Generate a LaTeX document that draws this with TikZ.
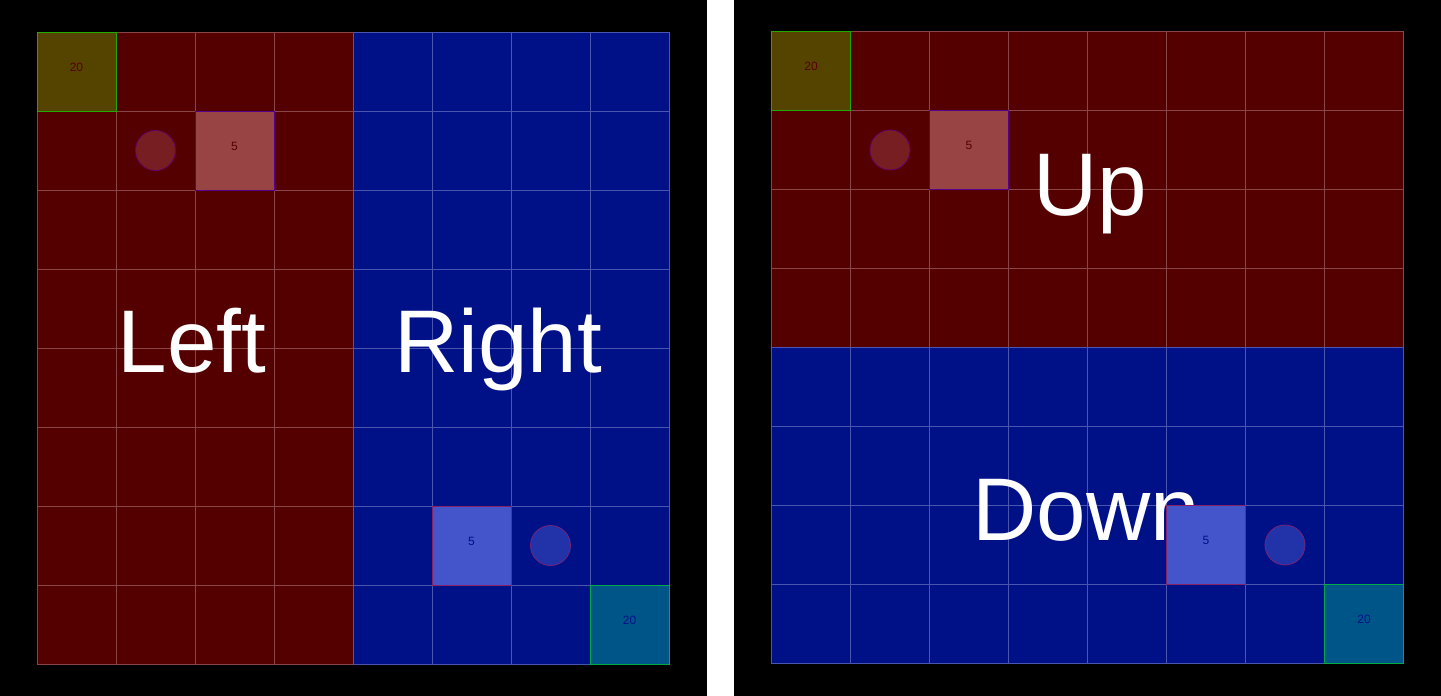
\documentclass[tikz,border=0pt]{standalone}
\usepackage{fontspec}
\setmainfont{Liberation Sans}
\definecolor{cRed}{HTML}{550000}
\definecolor{cBlue}{HTML}{001188}
\definecolor{cRedLine}{HTML}{8A4646}
\definecolor{cBlueLine}{HTML}{4A55B0}
\definecolor{cOlive}{HTML}{554400}
\definecolor{cOliveEdge}{HTML}{22AA00}
\definecolor{cTeal}{HTML}{005588}
\definecolor{cTealEdge}{HTML}{00AA44}
\definecolor{cPink}{HTML}{994444}
\definecolor{cPinkEdge}{HTML}{550088}
\definecolor{cLight}{HTML}{4455CC}
\definecolor{cLightEdge}{HTML}{882266}
\definecolor{cRedDot}{HTML}{771E22}
\definecolor{cRedDotEdge}{HTML}{660066}
\definecolor{cBlueDot}{HTML}{2233AA}
\definecolor{cBlueDotEdge}{HTML}{772277}
\begin{document}
\begin{tikzpicture}[x=1pt,y=-1pt,
  cellbox/.style={draw, line width=1pt, minimum size=79pt, inner sep=0pt},
  olivebox/.style={cellbox, fill=cOlive, draw=cOliveEdge},
  tealbox/.style={cellbox, fill=cTeal, draw=cTealEdge},
  pinkbox/.style={cellbox, fill=cPink, draw=cPinkEdge},
  lightbox/.style={cellbox, fill=cLight, draw=cLightEdge},
  dot/.style={circle, line width=0.8pt, minimum size=40pt, inner sep=0pt},
  reddot/.style={dot, fill=cRedDot, draw=cRedDotEdge},
  bluedot/.style={dot, fill=cBlueDot, draw=cBlueDotEdge},
  smalltxt/.style={inner sep=0pt, font=\fontsize{12}{12}\selectfont},
  redtxt/.style={smalltxt, text=cRed},
  bluetxt/.style={smalltxt, text=cBlue},
  bigtxt/.style={inner sep=0pt, anchor=base, text=white, font=\fontsize{89}{89}\selectfont},
  redline/.style={draw=cRedLine, line width=1pt},
  blueline/.style={draw=cBlueLine, line width=1pt}]
\useasboundingbox (0,0) rectangle (1441,696);
\fill[black] (0,0) rectangle (707,696);
\fill[white] (707,0) rectangle (734,696);
\fill[black] (734,0) rectangle (1441,696);

% ---------- Left panel ----------
\begin{scope}[shift={(37,32)}]
  \fill[cRed] (0,0) rectangle (316,632);
  \fill[cBlue] (316,0) rectangle (632,632);
  \foreach \i in {0,...,4} {
    \draw[redline] (79*\i,0) -- (79*\i,632);
  }
  \foreach \j in {0,...,8} {
    \draw[redline] (0,79*\j) -- (316,79*\j);
  }
  \foreach \i in {4,...,8} {
    \draw[blueline] (79*\i,0) -- (79*\i,632);
  }
  \foreach \j in {0,...,8} {
    \draw[blueline] (316,79*\j) -- (632,79*\j);
  }
  \node[bigtxt] (lefttxt) at (155,340) {Left};
  \node[bigtxt] (righttxt) at (461,340) {Right};
  \node[olivebox] (lgoalA) at (39.5,39.5) {};
  \node[redtxt] (lgoalAtxt) at (39.5,35) {20};
  \node[reddot] (ldotA) at (118.5,118.5) {};
  \node[pinkbox] (lboxA) at (197.5,118.5) {};
  \node[redtxt] (lboxAtxt) at (197.5,114) {5};
  \node[lightbox] (lboxB) at (434.5,513.5) {};
  \node[bluetxt] (lboxBtxt) at (434.5,509) {5};
  \node[bluedot] (ldotB) at (513.5,513.5) {};
  \node[tealbox] (lgoalB) at (592.5,592.5) {};
  \node[bluetxt] (lgoalBtxt) at (592.5,588) {20};
\end{scope}

% ---------- Right panel ----------
\begin{scope}[shift={(771.5,31.5)}]
  \fill[cRed] (0,0) rectangle (632,316);
  \fill[cBlue] (0,316) rectangle (632,632);
  \foreach \i in {0,...,8} {
    \draw[redline] (79*\i,0) -- (79*\i,316);
    \draw[blueline] (79*\i,316) -- (79*\i,632);
  }
  \foreach \j in {0,...,4} {
    \draw[redline] (0,79*\j) -- (632,79*\j);
  }
  \foreach \j in {4,...,8} {
    \draw[blueline] (0,79*\j) -- (632,79*\j);
  }
  \node[bigtxt] (uptxt) at (319,183.5) {Up};
  \node[bigtxt] (downtxt) at (315,508.5) {Down};
  \node[olivebox] (rgoalA) at (39.5,39.5) {};
  \node[redtxt] (rgoalAtxt) at (39.5,35) {20};
  \node[reddot] (rdotA) at (118.5,118.5) {};
  \node[pinkbox] (rboxA) at (197.5,118.5) {};
  \node[redtxt] (rboxAtxt) at (197.5,114) {5};
  \node[lightbox] (rboxB) at (434.5,513.5) {};
  \node[bluetxt] (rboxBtxt) at (434.5,509) {5};
  \node[bluedot] (rdotB) at (513.5,513.5) {};
  \node[tealbox] (rgoalB) at (592.5,592.5) {};
  \node[bluetxt] (rgoalBtxt) at (592.5,588) {20};
\end{scope}
\end{tikzpicture}
\end{document}
